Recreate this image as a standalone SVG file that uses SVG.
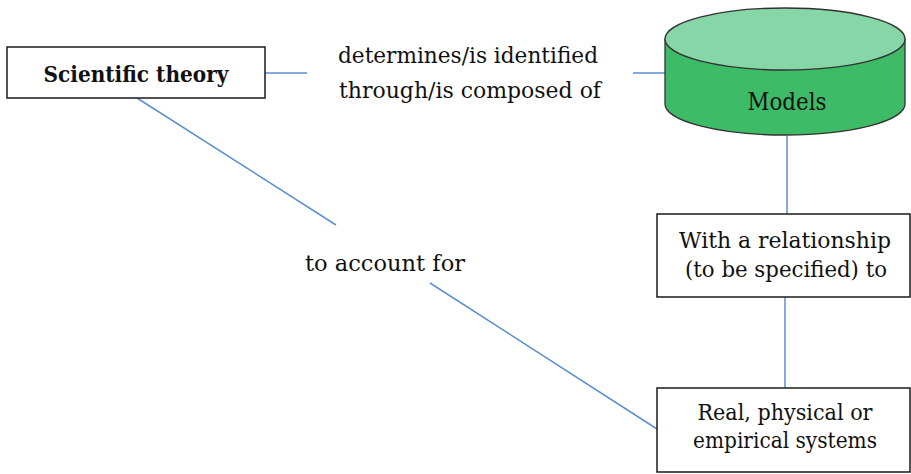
<svg xmlns="http://www.w3.org/2000/svg" width="911" height="474" viewBox="0 0 911 474">
<style>
.box{fill:#fff;stroke:#1a1a1a;stroke-width:1.5}
.t{font-family:"DejaVu Serif",serif;font-size:23px;fill:#111;text-anchor:middle}
.b{font-weight:bold}
.c{stroke:#5b8fd0;stroke-width:1.5;fill:none}
</style>
<rect width="911" height="474" fill="#fff"/>
<g id="connectors">
<line class="c" x1="265" y1="73" x2="307" y2="73"/>
<line class="c" x1="633" y1="73" x2="665" y2="73"/>
<line class="c" x1="787" y1="136" x2="787" y2="214"/>
<line class="c" x1="785" y1="297" x2="785" y2="388"/>
<line class="c" x1="137" y1="98" x2="336" y2="225"/>
<line class="c" x1="430" y1="283" x2="657" y2="429"/>
</g>
<g id="edge-label-1">
<text class="t" x="468" y="63" textLength="260" lengthAdjust="spacingAndGlyphs">determines/is identified</text>
<text class="t" x="470" y="98" textLength="262" lengthAdjust="spacingAndGlyphs">through/is composed of</text>
</g>
<g id="edge-label-2">
<text class="t" x="385" y="271" textLength="160" lengthAdjust="spacingAndGlyphs">to account for</text>
</g>
<g id="scientific-theory">
<rect class="box" x="7" y="47" width="258" height="51"/>
<text class="t b" x="136" y="82" textLength="185" lengthAdjust="spacingAndGlyphs">Scientific theory</text>
</g>
<g id="models">
<path d="M665,39 L665,104 A120,31 0 0 0 905,104 L905,39 Z" fill="#3dbb66" stroke="#333" stroke-width="1.3"/>
<ellipse cx="785" cy="39" rx="120" ry="31" fill="#86d6a8" stroke="#333" stroke-width="1.3"/>
<text class="t" x="787" y="110" style="font-size:25px" textLength="79" lengthAdjust="spacingAndGlyphs">Models</text>
</g>
<g id="relationship">
<rect class="box" x="657" y="214" width="253" height="83"/>
<text class="t" x="785" y="248" textLength="212" lengthAdjust="spacingAndGlyphs">With a relationship</text>
<text class="t" x="786" y="277" textLength="202" lengthAdjust="spacingAndGlyphs">(to be specified) to</text>
</g>
<g id="systems">
<rect class="box" x="657" y="388" width="253" height="84"/>
<text class="t" x="785" y="420" textLength="175" lengthAdjust="spacingAndGlyphs">Real, physical or</text>
<text class="t" x="785" y="448" textLength="184" lengthAdjust="spacingAndGlyphs">empirical systems</text>
</g>
</svg>
